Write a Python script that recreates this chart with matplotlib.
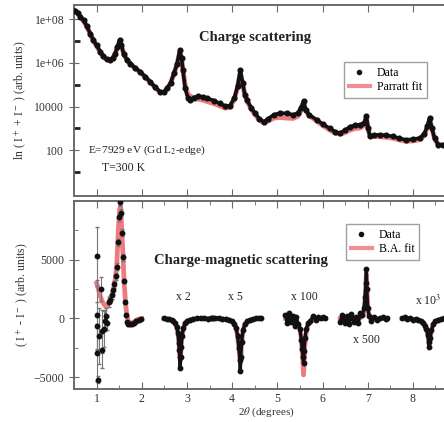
import numpy as np
import matplotlib
matplotlib.use('Agg')
import matplotlib.pyplot as plt
from matplotlib.ticker import FixedLocator, FixedFormatter, MultipleLocator, NullFormatter
from matplotlib.lines import Line2D

plt.rcParams['font.family'] = ['Liberation Serif', 'DejaVu Serif']
plt.rcParams['mathtext.fontset'] = 'stix'

# ---- charge scattering (top panel) ----
top_x = [0.52, 0.58, 0.64, 0.71, 0.78, 0.86, 0.93, 1.00, 1.08, 1.15, 1.22, 1.30,
         1.36, 1.41, 1.46, 1.51, 1.55, 1.60, 1.67, 1.75, 1.85, 1.97, 2.08, 2.19,
         2.30, 2.41, 2.49, 2.56, 2.64, 2.71, 2.78, 2.84, 2.88, 2.91, 2.96, 3.02,
         3.07, 3.15, 3.25, 3.35, 3.45, 3.59, 3.72, 3.85, 3.95, 4.05, 4.12, 4.18,
         4.23, 4.28, 4.33, 4.42, 4.51, 4.60, 4.70, 4.80, 4.92, 5.05, 5.21, 5.35,
         5.45, 5.52, 5.58, 5.63, 5.70, 5.87, 6.00, 6.16, 6.28, 6.38, 6.50, 6.61,
         6.72, 6.83, 6.92, 6.97, 7.01, 7.05, 7.15, 7.27, 7.40, 7.56, 7.70, 7.85,
         8.00, 8.15, 8.25, 8.32, 8.37, 8.42, 8.48, 8.56, 8.67, 8.80]
top_data = [2.5e8, 2.0e8, 1.3e8, 8.9e7, 5.0e7, 2.2e7, 1.1e7, 6.3e6, 3.3e6, 2.0e6, 1.5e6, 1.4e6,
            1.7e6, 2.6e6, 5.6e6, 1.1e7, 6.3e6, 2.6e6, 1.4e6, 9.3e5, 6.0e5, 3.9e5, 2.3e5, 1.35e5,
            7.6e4, 4.7e4, 4.8e4, 6.8e4, 1.26e5, 3.3e5, 8.9e5, 3.9e6, 1.6e6, 4.7e5, 6.8e4, 2.5e4,
            2.0e4, 2.6e4, 3.0e4, 2.8e4, 2.4e4, 1.9e4, 1.4e4, 1.05e4, 1.1e4, 2.5e4, 8.9e4, 4.7e5,
            1.26e5, 3.5e4, 2.0e4, 8.9e3, 4.9e3, 2.8e3, 2.0e3, 2.8e3, 4.2e3, 5.0e3, 4.9e3, 4.2e3,
            5.0e3, 8.9e3, 1.8e4, 7.1e3, 4.2e3, 2.5e3, 1.6e3, 1.0e3, 710, 600, 830, 1.2e3,
            1.4e3, 1.45e3, 1.8e3, 3.7e3, 1.0e3, 430, 500, 510, 480, 430, 350, 300,
            320, 360, 560, 1.26e3, 3.0e3, 1.0e3, 350, 180, 180, 160]
top_fit = [2.5e8, 2.0e8, 1.3e8, 8.5e7, 4.8e7, 2.1e7, 1.05e7, 6.0e6, 3.2e6, 1.9e6, 1.45e6, 1.4e6,
           1.7e6, 2.6e6, 5.2e6, 1.0e7, 6.0e6, 2.6e6, 1.4e6, 9.0e5, 5.8e5, 3.7e5, 2.2e5, 1.3e5,
           7.2e4, 4.5e4, 4.6e4, 6.5e4, 1.2e5, 3.1e5, 8.5e5, 3.0e6, 1.5e6, 5.0e5, 9.0e4, 3.6e4,
           3.0e4, 2.4e4, 2.2e4, 2.0e4, 1.7e4, 1.4e4, 1.1e4, 8.5e3, 9.5e3, 2.2e4, 7.5e4, 3.5e5,
           1.2e5, 3.5e4, 1.8e4, 8.0e3, 4.2e3, 2.5e3, 1.8e3, 2.2e3, 3.0e3, 3.2e3, 3.0e3, 2.9e3,
           3.6e3, 6.5e3, 1.4e4, 6.5e3, 4.0e3, 2.2e3, 1.4e3, 850, 620, 550, 650, 850,
           1.0e3, 1.05e3, 1.4e3, 3.0e3, 900, 450, 430, 420, 400, 360, 300, 260,
           270, 310, 500, 1.1e3, 2.6e3, 1.0e3, 350, 180, 170, 150]

# ---- charge-magnetic scattering (bottom panel) ----
s1_x = [1.00, 1.00, 1.01, 1.01, 1.02, 1.06, 1.09, 1.11, 1.13, 1.16, 1.19, 1.21, 1.24,
        1.27, 1.30, 1.33, 1.36, 1.39, 1.42, 1.45, 1.48, 1.50, 1.52, 1.54, 1.56, 1.58,
        1.60, 1.62, 1.64, 1.67, 1.70, 1.74, 1.78, 1.83, 1.88, 1.93, 1.98]
s1_y = [5300, 300, -600, -2900, -5200, -1500, 2500, -1100, -2700, -900, -200, 200, -400,
        1400, 1600, 2000, 2400, 2900, 3600, 4400, 6500, 8600, 9900, 9000, 7300, 5200,
        3200, 1400, 300, -300, -450, -500, -450, -350, -250, -150, -50]
s1_err = [2500, 3000, 2000, 2400, 300, 2400, 1000, 1800, 1500, 1500, 900, 700, 600,
          400, 300, 300, 300, 300, 300, 300, 300, 300, 300, 300, 300, 300,
          200, 200, 150, 150, 150, 150, 120, 120, 100, 100, 100]
s1_fx = [1.00, 1.04, 1.08, 1.13, 1.19, 1.25, 1.30, 1.35, 1.39, 1.42, 1.45, 1.48, 1.51,
         1.53, 1.56, 1.59, 1.61, 1.64, 1.67, 1.71, 1.75, 1.82, 1.89, 1.95, 2.00]
s1_fit = [3000, 2500, 1900, 1400, 1050, 1200, 1600, 2100, 2700, 3600, 4800, 7500, 9300,
          9600, 7300, 4800, 3000, 1400, 200, -300, -430, -300, -100, -20, 0]

s2_x = [2.49, 2.55, 2.61, 2.66, 2.70, 2.74, 2.77, 2.80, 2.82, 2.83, 2.84, 2.85, 2.86,
        2.87, 2.89, 2.92, 2.96, 3.01, 3.07, 3.14, 3.22, 3.30, 3.38, 3.46, 3.53, 3.57]
s2_y = [0, -80, -60, -150, -250, -400, -700, -1200, -2100, -2700, -3300, -4200, -3300,
        -2400, -1500, -800, -400, -200, -100, -30, 0, 20, 0, -20, 0, 10]
s2_fit = [0, -40, -80, -150, -250, -420, -720, -1250, -2000, -2600, -3200, -3600, -3300,
          -2500, -1500, -850, -420, -200, -100, -40, -10, 0, 0, 0, 0, 0]

s3_x = [3.55, 3.62, 3.70, 3.78, 3.86, 3.93, 4.00, 4.05, 4.09, 4.12, 4.15, 4.17, 4.18,
        4.19, 4.21, 4.24, 4.28, 4.33, 4.39, 4.46, 4.53, 4.59, 4.63]
s3_y = [0, 20, 0, -30, -60, -120, -250, -450, -800, -1500, -2500, -3500, -4500,
        -3300, -2000, -1000, -500, -250, -120, -50, 0, 10, 0]
s3_fit = [0, 0, -10, -30, -60, -120, -250, -450, -850, -1500, -2600, -3400, -3800,
          -3500, -2100, -1050, -500, -250, -120, -50, -10, 0, 0]

s4_x = [5.18, 5.22, 5.26, 5.30, 5.34, 5.38, 5.42, 5.46, 5.50, 5.53, 5.55, 5.57, 5.58,
        5.59, 5.61, 5.64, 5.68, 5.73, 5.79, 5.85, 5.91, 5.97, 6.02, 6.06]
s4_y = [300, -400, 500, -300, 200, -600, 100, -500, -900, -1800, -2600, -3300, -3800,
        -2800, -1700, -900, -400, -200, 200, -100, 100, 0, 100, 0]
s4_fit = [0, -20, -40, -60, -100, -160, -260, -450, -900, -1700, -2800, -4000, -4800,
          -4000, -2300, -1100, -500, -250, -120, -60, -30, -10, 0, 0]

s5_x = [6.39, 6.44, 6.49, 6.54, 6.59, 6.64, 6.69, 6.74, 6.79, 6.84, 6.88, 6.92, 6.94,
        6.96, 6.97, 6.98, 7.00, 7.03, 7.08, 7.14, 7.20, 7.27, 7.34, 7.40, 7.43]
s5_y = [-300, 300, -400, 200, -500, 400, -300, 100, -400, 500, 300, 900, 1800,
        3000, 4200, 2500, 900, 200, -200, 100, -100, 0, 100, -50, 0]
s5_fit = [0, 0, 0, 0, 0, 0, 0, 0, 0, 50, 200, 600, 1500,
          3000, 3800, 2800, 1000, 250, 50, 0, 0, 0, 0, 0, 0]

s6_x = [7.76, 7.82, 7.88, 7.94, 8.00, 8.06, 8.12, 8.18, 8.23, 8.27, 8.30, 8.33, 8.35,
        8.36, 8.38, 8.41, 8.45, 8.50, 8.56, 8.62, 8.68, 8.74]
s6_y = [0, 100, -50, 80, -100, -50, -150, -200, -350, -600, -900, -1400, -2000,
        -2400, -1700, -1000, -500, -250, -150, -50, 0, 0]
s6_fit = [0, 0, -20, -40, -60, -90, -130, -200, -320, -550, -900, -1400, -1900,
          -2200, -1800, -1000, -500, -250, -120, -60, -20, 0]

scale_labels = ['x 2', 'x 5', 'x 100', 'x 500', 'x 10$^3$']
scale_x = [2.92, 4.07, 5.60, 6.98, 8.33]
scale_y = [1800, 1800, 1800, -1800, 1500]

x_ticks = [1, 2, 3, 4, 5, 6, 7, 8]

data_c = '#111111'
fit_c = '#e3222b'
spine_c = '#6a6a6a'

fig = plt.figure(figsize=(4.44, 4.22), dpi=100)
ax1 = fig.add_axes([0.1667, 0.5355, 0.865, 0.4526])
ax2 = fig.add_axes([0.1667, 0.0782, 0.865, 0.4455])

# top panel
ax1.plot(top_x, top_fit, color=fit_c, lw=3.6, alpha=0.6, zorder=2)
ax1.plot(top_x, top_data, color=data_c, lw=2.6, zorder=3)
ax1.plot(top_x, top_data, 'o', color=data_c, ms=3.4, zorder=4)
ax1.set_yscale('log')
ax1.set_xlim(0.5, 9)
ax1.set_ylim(0.8, 4.5e8)
ax1.yaxis.set_major_locator(FixedLocator([1e2, 1e4, 1e6, 1e8]))
ax1.yaxis.set_major_formatter(FixedFormatter(['100', '10000', '1e+06', '1e+08']))
ax1.yaxis.set_minor_locator(FixedLocator([1e1, 1e3, 1e5, 1e7]))
ax1.yaxis.set_minor_formatter(NullFormatter())
ax1.xaxis.set_major_locator(FixedLocator(x_ticks))
ax1.tick_params(axis='x', which='both', direction='in', top=True, labelbottom=False,
                length=5, color=spine_c)
ax1.tick_params(axis='y', which='major', direction='inout', length=7, color=spine_c,
                labelsize=8.5, labelcolor='#333333')
ax1.tick_params(axis='y', which='minor', direction='in', length=4, width=2, color='#222222')
ax1.set_ylabel(r'ln ( I$^+$ + I$^-$ ) (arb. units)', fontsize=8.5, color='#333333', labelpad=4)
ax1.text(4.51, 1.45e7, 'Charge scattering', fontsize=10.5, fontweight='bold',
         ha='center', va='center', color='#222222')
ax1.text(0.82, 100, r'E=7929 eV (Gd L$_2$-edge)', fontsize=8.2, va='center', color='#222222')
ax1.text(1.13, 15, 'T=300 K', fontsize=8.5, va='center', color='#222222')

h_data = Line2D([], [], ls='none', marker='o', ms=3, color=data_c)
h_fit = Line2D([], [], lw=3, color=fit_c, alpha=0.5)
ax1.legend([h_data, h_fit], ['Data', 'Parratt fit'], loc='upper left',
           bbox_to_anchor=(0.703, 0.70), borderaxespad=0, fancybox=False,
           edgecolor='#888888', fontsize=8.5, handlelength=1.8, borderpad=0.4,
           labelspacing=0.2, handletextpad=0.6)

# bottom panel
segments = [(s1_fx, s1_fit), (s2_x, s2_fit), (s3_x, s3_fit), (s4_x, s4_fit),
            (s5_x, s5_fit), (s6_x, s6_fit)]
for sx, sf in segments:
    ax2.plot(sx, sf, color=fit_c, lw=3.4, alpha=0.6, zorder=2)

ax2.errorbar(s1_x, s1_y, yerr=s1_err, fmt='o', color=data_c, ms=3.2, ecolor='#777777',
             elinewidth=0.8, capsize=1.5, zorder=3)
for sx, sy in [(s2_x, s2_y), (s3_x, s3_y), (s4_x, s4_y), (s5_x, s5_y), (s6_x, s6_y)]:
    ax2.plot(sx, sy, color=data_c, lw=2.4, zorder=3)
    ax2.plot(sx, sy, 'o', color=data_c, ms=3.2, zorder=4)

for lab, lx, ly in zip(scale_labels, scale_x, scale_y):
    ax2.text(lx, ly, lab, fontsize=8.5, ha='center', va='center', color='#222222')
ax2.text(4.2, 4900, 'Charge-magnetic scattering', fontsize=10.5, fontweight='bold',
         ha='center', va='center', color='#222222')

ax2.set_xlim(0.5, 9)
ax2.set_ylim(-6000, 10000)
ax2.xaxis.set_major_locator(FixedLocator(x_ticks))
ax2.xaxis.set_minor_locator(MultipleLocator(0.5))
ax2.yaxis.set_major_locator(FixedLocator([-5000, 0, 5000]))
ax2.yaxis.set_minor_locator(MultipleLocator(2500))
ax2.tick_params(axis='x', which='major', direction='in', top=True, length=5, pad=3,
                color=spine_c, labelsize=8.5, labelcolor='#333333')
ax2.tick_params(axis='x', which='minor', direction='in', top=True, length=3, color=spine_c)
ax2.tick_params(axis='y', which='major', direction='inout', length=7, color=spine_c,
                labelsize=8.5, labelcolor='#333333')
ax2.tick_params(axis='y', which='minor', direction='in', length=3, color=spine_c)
ax2.set_xlabel(r'2$\theta$ (degrees)', fontsize=8, color='#333333', labelpad=0.5)
ax2.set_ylabel(r'( I$^+$ - I$^-$ ) (arb. units)', fontsize=8.5, color='#333333', labelpad=2)

ax2.legend([h_data, h_fit], ['Data', 'B.A. fit'], loc='upper left',
           bbox_to_anchor=(0.708, 0.878), borderaxespad=0, fancybox=False,
           edgecolor='#888888', fontsize=8.5, handlelength=1.8, borderpad=0.4,
           labelspacing=0.2, handletextpad=0.6)

for ax in (ax1, ax2):
    for sp in ax.spines.values():
        sp.set_color(spine_c)
        sp.set_linewidth(1.4)

fig.savefig('out.png', dpi=100)
